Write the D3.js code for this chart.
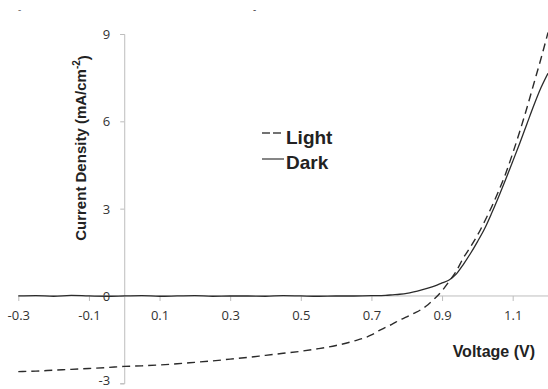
<!DOCTYPE html>
<html><head><meta charset="utf-8">
<script src="https://cdn.jsdelivr.net/npm/d3@7"></script>
<style>body{margin:0;background:#fff}svg{display:block}</style>
</head><body>
<svg id="c" width="548" height="389"></svg>
<script>
const voltage = [-0.3,-0.25,-0.2,-0.15,-0.1,-0.05,0,0.05,0.1,0.15,0.2,0.25,0.3,0.35,0.4,0.45,0.5,0.55,0.6,0.65,0.7,0.72,0.74,0.76,0.78,0.8,0.82,0.84,0.86,0.88,0.9,0.92,0.94,0.96,0.98,1.0,1.02,1.04,1.06,1.08,1.1,1.12,1.14,1.16,1.18,1.2];
const light = [-2.60,-2.58,-2.55,-2.52,-2.49,-2.46,-2.42,-2.40,-2.37,-2.33,-2.28,-2.23,-2.17,-2.11,-2.04,-1.97,-1.90,-1.81,-1.70,-1.55,-1.34,-1.20,-1.08,-0.96,-0.83,-0.72,-0.60,-0.47,-0.30,-0.08,0.18,0.50,0.85,1.30,1.68,2.08,2.55,3.05,3.60,4.20,4.90,5.65,6.45,7.30,8.15,9.05];
const dark = [0.0,0.01,-0.01,0.02,0.0,-0.01,0.0,0.01,-0.01,0.0,0.01,-0.01,0.0,0.0,-0.01,0.01,0.0,-0.01,0.0,0.0,0.01,0.01,0.02,0.04,0.06,0.09,0.14,0.20,0.27,0.35,0.45,0.55,0.75,1.08,1.45,1.86,2.30,2.83,3.40,4.00,4.62,5.25,5.90,6.55,7.15,7.65];
const xTicks = [-0.3,-0.1,0.1,0.3,0.5,0.7,0.9,1.1];
const yTicks = [-3,0,3,6,9];
const seriesNames = ["Light","Dark"];

const svg = d3.select("#c");
const x = d3.scaleLinear().domain([-0.3,1.2]).range([18.3,548]);
const y = d3.scaleLinear().domain([-3,9]).range([383.3,34]);
const axisCol = "#bdbdbd", txtCol = "#333";
const fmt = d => String(d);

// y axis at x=0
const yAxis = svg.append("g").attr("transform",`translate(${x(0)},0)`)
  .call(d3.axisLeft(y).tickValues(yTicks).tickSize(4).tickPadding(10).tickFormat(fmt));
yAxis.select(".domain").attr("stroke",axisCol);
yAxis.selectAll(".tick line").attr("stroke",axisCol);
yAxis.selectAll(".tick text").attr("fill",txtCol).attr("font-family","Open Sans, sans-serif").attr("font-size",13)
  .attr("dy", d => d === -3 ? "0.1em" : "0.35em");

// x axis at y=0
const xAxis = svg.append("g").attr("transform",`translate(0,${y(0)})`)
  .call(d3.axisBottom(x).tickValues(xTicks).tickSize(5).tickPadding(10).tickFormat(fmt));
xAxis.select(".domain").attr("stroke",axisCol).attr("d",`M${x(-0.3)},0H${x(1.2)}`);
xAxis.selectAll(".tick line").attr("stroke",axisCol);
xAxis.selectAll(".tick text").attr("fill",txtCol).attr("font-family","Open Sans, sans-serif").attr("font-size",13);

const line = d3.line().x((d,i)=>x(voltage[i])).y(d=>y(d)).curve(d3.curveMonotoneX);
svg.append("path").datum(dark).attr("d",line).attr("fill","none").attr("stroke","#2b2b2b").attr("stroke-width",1.3);
svg.append("path").datum(light).attr("d",line).attr("fill","none").attr("stroke","#2b2b2b").attr("stroke-width",1.4).attr("stroke-dasharray","8,5");

// legend
const lg = svg.append("g");
lg.append("line").attr("x1",262).attr("x2",284).attr("y1",133).attr("y2",133).attr("stroke","#444").attr("stroke-width",1.3).attr("stroke-dasharray","8,3");
lg.append("line").attr("x1",262).attr("x2",284).attr("y1",159).attr("y2",159).attr("stroke","#444").attr("stroke-width",1.3);
lg.append("text").attr("x",286).attr("y",144).text(seriesNames[0]);
lg.append("text").attr("x",286).attr("y",169).text(seriesNames[1]);
lg.selectAll("text").attr("font-family","Liberation Sans, Arial, sans-serif").attr("font-weight","bold").attr("font-size",19).attr("fill","#222");

// axis titles
const yt = svg.append("text").attr("transform","translate(86,148) rotate(-90)").attr("text-anchor","middle")
  .attr("font-family","Liberation Sans, Arial, sans-serif").attr("font-weight","bold").attr("font-size",15).attr("fill","#222");
yt.append("tspan").text("Current Density (mA/cm");
yt.append("tspan").attr("font-size",10).attr("dy","-0.6em").text("-2");
yt.append("tspan").attr("dy","0.6em").text(")");
svg.append("text").attr("x",535).attr("y",357).attr("text-anchor","end")
  .attr("font-family","Liberation Sans, Arial, sans-serif").attr("font-weight","bold").attr("font-size",16).attr("fill","#222").text("Voltage (V)");

// small cropped artifacts at top
svg.append("text").attr("x",18).attr("y",13).attr("font-family","Open Sans, sans-serif").attr("font-size",10).attr("fill","#666").text("-");
svg.append("text").attr("x",253).attr("y",13).attr("font-family","Open Sans, sans-serif").attr("font-size",10).attr("fill","#444").text("-");
</script>
</body></html>
